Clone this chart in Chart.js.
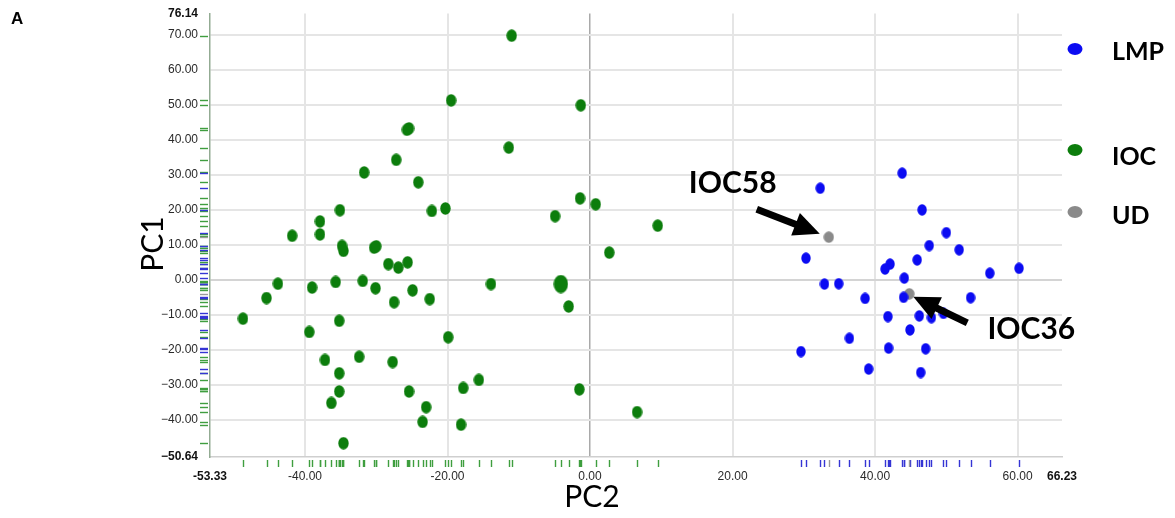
<!DOCTYPE html>
<html><head><meta charset="utf-8">
<script src="https://cdn.jsdelivr.net/npm/chart.js@4"></script>
<style>html,body{margin:0;padding:0;background:#fff;}canvas{display:block}</style>
</head><body>
<canvas id="c" width="1175" height="518"></canvas>
<script>
// ---- data ----
const lmpX = [43.8, 32.3, 46.6, 50.0, 47.6, 51.8, 30.3, 45.9, 42.1, 41.4, 60.2, 56.1, 44.1, 32.9, 34.9, 38.6, 44.0, 53.4, 41.8, 46.2, 47.9, 49.6, 44.9, 36.4, 29.6, 41.9, 47.1, 39.1, 46.4];
const lmpY = [30.5, 26.2, 20.0, 13.5, 9.8, 8.6, 6.2, 5.7, 4.5, 3.1, 3.3, 1.9, 0.5, -1.2, -1.1, -5.3, -5.0, -5.1, -10.5, -10.3, -10.8, -9.6, -14.3, -16.7, -20.5, -19.5, -19.7, -25.5, -26.5];
const iocX = [-27.2, -31.7, -24.1, -35.1, -22.2, -37.9, -37.9, -41.8, -34.8, -34.6, -30.3, -30.0, -28.3, -26.9, -25.6, -43.8, -45.4, -39.0, -35.7, -31.9, -30.1, -27.5, -24.9, -22.5, -48.7, -35.2, -39.4, -37.2, -32.4, -27.7, -35.2, -35.2, -25.4, -36.3, -23.0, -23.5, -34.6, -11.0, -19.5, -1.3, -25.4, -25.7, -11.4, -1.4, 0.8, -20.3, -4.9, 9.5, 2.7, -13.9, -4.1, -3.0, -19.9, -15.6, -17.8, -1.5, 6.6, -18.1];
const iocY = [34.3, 30.7, 27.9, 19.9, 19.7, 16.7, 13.0, 12.6, 9.7, 8.3, 9.2, 9.6, 4.5, 3.5, 5.0, -1.1, -5.2, -2.2, -0.6, -0.3, -2.4, -6.4, -3.0, -5.5, -11.1, -11.7, -14.9, -22.9, -22.0, -23.5, -26.7, -31.9, -31.9, -35.2, -36.4, -40.6, -46.7, 69.8, 51.3, 49.9, 43.3, 42.9, 37.8, 23.3, 21.6, 20.4, 18.2, 15.5, 7.8, -1.2, -1.2, -7.6, -16.4, -28.6, -30.9, -31.3, -37.8, -41.4];
const udX = [33.5, 44.8];
const udY = [12.2, -4.0];
const udNames = ['IOC58', 'IOC36'];
const seriesNames = ['LMP', 'IOC', 'UD'];
const xTicks = [-53.33, -40, -20, 0, 20, 40, 60, 66.23];
const yTicks = [-50.64, -40, -30, -20, -10, 0, 10, 20, 30, 40, 50, 60, 70, 76.14];
const xTitle = 'PC2';
const yTitle = 'PC1';
const panelLabel = 'A';

// ---- styles ----
const BLUE = '#0b0bf2', GREEN = '#0c7d0c', GRAY = '#8a8a8a';
const bigIocIndex = 50;
function sprite(color, w, h) {
  const c = document.createElement('canvas');
  c.width = w; c.height = h;
  const g = c.getContext('2d');
  g.fillStyle = color;
  g.beginPath(); g.ellipse(w / 2, h / 2, w / 2 - 0.3, h / 2 - 0.3, 0, 0, Math.PI * 2); g.fill();
  return c;
}
const sBlue = sprite(BLUE, 10, 12), sGreen = sprite(GREEN, 11, 13), sGreenBig = sprite(GREEN, 15, 19), sGray = sprite(GRAY, 11, 12);
const pts = (xs, ys) => xs.map((x, i) => ({x, y: ys[i]}));
const xMin = xTicks[0], xMax = xTicks[xTicks.length - 1];
const yMin = yTicks[0], yMax = yTicks[yTicks.length - 1];
const tv = c => (c && c.tick) ? c.tick.value : null;
const isEdge = (v, a, b) => v !== null && (Math.abs(v - a) < 1e-6 || Math.abs(v - b) < 1e-6);

function arrow(ctx, x1, y1, x2, y2) {
  const a = Math.atan2(y2 - y1, x2 - x1);
  const hl = 26, hw = 12;
  const bx = x2 - hl * Math.cos(a), by = y2 - hl * Math.sin(a);
  ctx.save();
  ctx.strokeStyle = '#000'; ctx.fillStyle = '#000'; ctx.lineWidth = 7; ctx.lineCap = 'butt';
  ctx.beginPath(); ctx.moveTo(x1, y1); ctx.lineTo(bx + 2 * Math.cos(a), by + 2 * Math.sin(a)); ctx.stroke();
  ctx.beginPath();
  ctx.moveTo(x2, y2);
  ctx.lineTo(bx + hw * Math.sin(a), by - hw * Math.cos(a));
  ctx.lineTo(bx - hw * Math.sin(a), by + hw * Math.cos(a));
  ctx.closePath(); ctx.fill();
  ctx.restore();
}

const udArrows = [
  {tail: [-72, -28], tip: [-9, -3.5], text: [-96, -54]},
  {tail: [58, 29], tip: [4, 3], text: [122, 35]}
];

const decor = {
  id: 'decor',
  afterDraw(chart) {
    const ctx = chart.ctx, xs = chart.scales.x, ys = chart.scales.y, ca = chart.chartArea;
    const rug = (X, Y, color) => {
      ctx.save(); ctx.strokeStyle = color; ctx.lineWidth = 1.4;
      X.forEach((v, i) => {
        const px = Math.round(xs.getPixelForValue(v)) + 0.5;
        ctx.beginPath(); ctx.moveTo(px, ca.bottom + 3); ctx.lineTo(px, ca.bottom + 10); ctx.stroke();
        const py = Math.round(ys.getPixelForValue(Y[i])) + 0.5;
        ctx.beginPath(); ctx.moveTo(ca.left - 10, py); ctx.lineTo(ca.left - 2, py); ctx.stroke();
      });
      ctx.restore();
    };
    rug(iocX, iocY, '#3f9e3f');
    rug(lmpX, lmpY, '#3535d4');
    rug(udX, udY, '#9a9a9a');
    ctx.save();
    udX.forEach((v, i) => {
      const px = xs.getPixelForValue(v), py = ys.getPixelForValue(udY[i]);
      const A = udArrows[i];
      arrow(ctx, px + A.tail[0], py + A.tail[1], px + A.tip[0], py + A.tip[1]);
      ctx.fillStyle = '#000'; ctx.font = 'bold 30px Lato'; ctx.textAlign = 'center'; ctx.textBaseline = 'middle';
      ctx.fillText(udNames[i], px + A.text[0], py + A.text[1]);
    });
    const colors = [BLUE, GREEN, GRAY];
    const dotY = [49, 150, 212], textY = [52, 157, 216];
    seriesNames.forEach((n, i) => {
      ctx.fillStyle = colors[i];
      ctx.beginPath(); ctx.ellipse(1075, dotY[i], 7.5, 6, 0, 0, Math.PI * 2); ctx.fill();
      ctx.fillStyle = '#000'; ctx.font = 'bold 25px Lato'; ctx.textAlign = 'left'; ctx.textBaseline = 'middle';
      ctx.fillText(n, 1112, textY[i]);
    });
    ctx.fillStyle = '#000'; ctx.font = '30px Lato'; ctx.textAlign = 'center'; ctx.textBaseline = 'middle';
    ctx.fillText(xTitle, 592, 497);
    ctx.save(); ctx.translate(153, 244); ctx.rotate(-Math.PI / 2); ctx.fillText(yTitle, 0, 0); ctx.restore();
    ctx.font = 'bold 17px "Liberation Sans"'; ctx.textAlign = 'left';
    ctx.fillText(panelLabel, 11, 19);
    ctx.restore();
  }
};

new Chart(document.getElementById('c'), {
  type: 'scatter',
  data: {
    datasets: [
      {label: seriesNames[1], data: pts(iocX, iocY), pointStyle: c => c.dataIndex === bigIocIndex ? sGreenBig : sGreen},
      {label: seriesNames[0], data: pts(lmpX, lmpY), pointStyle: sBlue},
      {label: seriesNames[2], data: pts(udX, udY), pointStyle: sGray}
    ]
  },
  options: {
    responsive: false, animation: false, events: [],
    layout: {padding: {left: 150, right: 113, top: 13.5, bottom: 21}},
    plugins: {legend: {display: false}, tooltip: {enabled: false}},
    scales: {
      x: {
        type: 'linear', min: xMin, max: xMax,
        afterBuildTicks: s => { s.ticks = xTicks.map(v => ({value: v})); },
        afterFit: s => { s.height = 40; },
        border: {display: true, color: '#cfcfcf', width: 1.5},
        grid: {drawTicks: false,
          color: c => { const v = tv(c); return v === null ? '#e3e3e3' : isEdge(v, xMin, xMax) ? 'rgba(0,0,0,0)' : (v === 0 ? '#a9a9a9' : '#e5e5e5'); },
          lineWidth: c => tv(c) === 0 ? 1.5 : 2},
        ticks: {
          autoSkip: false, maxRotation: 0, padding: 12,
          color: c => isEdge(tv(c), xMin, xMax) ? '#111' : '#2a2a2a',
          font: c => ({family: 'Liberation Sans', size: 12, weight: isEdge(tv(c), xMin, xMax) ? 'bold' : 'normal'}),
          callback: v => Number(v).toFixed(2)
        }
      },
      y: {
        type: 'linear', min: yMin, max: yMax,
        afterBuildTicks: s => { s.ticks = yTicks.map(v => ({value: v})); },
        afterFit: s => { s.width = 60; s.paddingTop = 0; s.paddingBottom = 0; },
        border: {display: true, color: '#93ab93', width: 1.5},
        grid: {drawTicks: false,
          color: c => { const v = tv(c); return v === null ? '#e3e3e3' : isEdge(v, yMin, yMax) ? 'rgba(0,0,0,0)' : (v === 0 ? '#d4d4d4' : '#e5e5e5'); },
          lineWidth: 2},
        ticks: {
          autoSkip: false, padding: 12,
          color: c => isEdge(tv(c), yMin, yMax) ? '#111' : '#2a2a2a',
          font: c => ({family: 'Liberation Sans', size: 12, weight: isEdge(tv(c), yMin, yMax) ? 'bold' : 'normal'}),
          callback: v => (v < 0 ? '\u2212' : '') + Math.abs(v).toFixed(2)
        }
      }
    }
  },
  plugins: [decor]
});
</script>
</body></html>
